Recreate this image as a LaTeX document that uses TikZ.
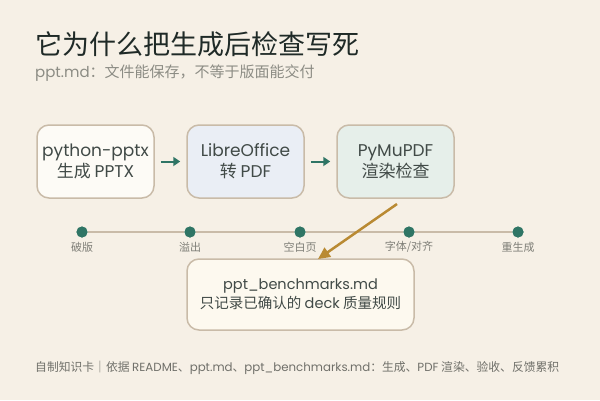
\documentclass[tikz,border=0pt]{standalone}
\usepackage{fontspec}
\setmainfont{Noto Sans CJK SC}
\newfontfamily\lat{Poppins}
\newcommand{\la}[1]{{\lat #1}}
\usetikzlibrary{arrows.meta}
\definecolor{bg}{HTML}{F6F0E6}
\definecolor{ink}{HTML}{1F2A27}
\definecolor{sub}{HTML}{8C8C84}
\definecolor{edge}{HTML}{C9BBA8}
\definecolor{teal}{HTML}{2F7565}
\definecolor{brown}{HTML}{B98A33}
\definecolor{fa}{HTML}{FDFBF6}
\definecolor{fb}{HTML}{EAEEF5}
\definecolor{fc}{HTML}{E6EFEA}
\definecolor{fd}{HTML}{FDF9EF}
\tikzset{
  stepbox/.style={draw=edge, line width=1.5pt, rounded corners=12pt, minimum width=117pt, minimum height=73pt, align=center, font=\fontsize{17}{21}\selectfont, text=ink!85, inner sep=0pt},
  flow/.style={draw=teal, line width=2pt, -{Triangle[length=7pt,width=9pt]}},
  dot/.style={circle, fill=teal, minimum size=11pt, inner sep=0pt},
  lab/.style={font=\fontsize{11}{13}\selectfont, text=sub!90!black},
}
\begin{document}
\begin{tikzpicture}[x=1pt,y=-1pt]
\fill[bg] (0,0) rectangle (600,400);
\useasboundingbox (0,0) rectangle (600,400);
\node[anchor=west, font=\fontsize{27}{30}\selectfont, text=ink, inner sep=0pt] (title) at (35,44) {它为什么把生成后检查写死};
\node[anchor=west, font=\fontsize{15}{17}\selectfont, text=sub, inner sep=0pt] (subtitle) at (35,73) {\la{ppt.md}：文件能保存，不等于版面能交付};
\node[stepbox, fill=fa] (b1) at (95.5,161.5) {\la{python-pptx}\\生成 \la{PPTX}};
\node[stepbox, fill=fb] (b2) at (245.5,161.5) {\la{LibreOffice}\\转 \la{PDF}};
\node[stepbox, fill=fc] (b3) at (395.5,161.5) {\la{PyMuPDF}\\渲染检查};
\draw[flow, shorten <=6pt, shorten >=6pt] (b1.east) -- (b2.west);
\draw[flow, shorten <=6pt, shorten >=6pt] (b2.east) -- (b3.west);
\node[dot] (d1) at (82,232) {};
\node[dot] (d2) at (190,232) {};
\node[dot] (d3) at (300,232) {};
\node[dot] (d4) at (409,232) {};
\node[dot] (d5) at (518,232) {};
\draw[edge, line width=1.5pt] (d1) -- (d2) -- (d3) -- (d4) -- (d5);
\foreach \d in {1,...,5} \node[dot] at (d\d) {};
\node[lab] (l1) at (82,247) {破版};
\node[lab] (l2) at (190,247) {溢出};
\node[lab] (l3) at (300,247) {空白页};
\node[lab] (l4) at (409,247) {字体/对齐};
\node[lab] (l5) at (518,247) {重生成};
\node[draw=edge, line width=1.5pt, rounded corners=12pt, fill=fd, minimum width=227pt, minimum height=71pt, align=center, font=\fontsize{14.5}{19}\selectfont, text=ink!85, inner sep=0pt] (b4) at (300.5,294.5) {\la{ppt\_benchmarks.md}\\只记录已确认的 \la{deck} 质量规则};
\coordinate (as) at (397,204);
\coordinate (ae) at (318,259);
\draw[brown, line width=2.5pt, -{Triangle[length=12pt,width=11pt]}] (as) -- (ae);
\node[anchor=west, font=\fontsize{11.8}{13}\selectfont, text=sub!80!black, inner sep=0pt] (foot) at (35,368) {自制知识卡｜依据 \la{README}、\la{ppt.md}、\la{ppt\_benchmarks.md}：生成、\la{PDF} 渲染、验收、反馈累积};
\end{tikzpicture}
\end{document}
